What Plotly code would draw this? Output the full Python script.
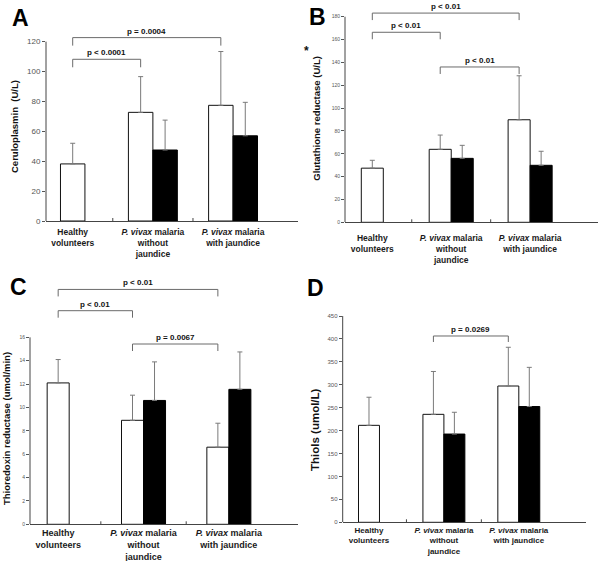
import plotly.graph_objects as go

W, H = 600, 561

categories = [
    "Healthy<br>volunteers",
    "<i>P. vivax</i> malaria<br>without<br>jaundice",
    "<i>P. vivax</i> malaria<br>with jaundice",
]

# Panel A - Ceruloplasmin (U/L)
A_white = [38.2, 72.7, 77.4]
A_white_sd = [13.8, 23.9, 36.0]
A_black = [47.5, 57.0]
A_black_sd = [20.0, 22.4]
A_ticks = [0, 20, 40, 60, 80, 100, 120]
A_brackets = [(0, 1, 108.2, "p < 0.0001"), (0, 2, 122.7, "p = 0.0004")]

# Panel B - Glutathione reductase (U/L)
B_white = [47.4, 63.9, 89.8]
B_white_sd = [6.9, 12.5, 38.5]
B_black = [56.0, 49.9]
B_black_sd = [11.4, 12.3]
B_ticks = [0, 20, 40, 60, 80, 100, 120, 140, 160, 180]
B_brackets = [(0, 2, 183.2, "p < 0.01"), (0, 1, 166.4, "p < 0.01"), (1, 2, 136.0, "p < 0.01")]

# Panel C - Thioredoxin reductase (umol/min)
C_white = [12.1, 8.9, 6.6]
C_white_sd = [2.0, 2.15, 2.05]
C_black = [10.6, 11.55]
C_black_sd = [3.3, 3.2]
C_ticks = [0, 2, 4, 6, 8, 10, 12, 14, 16]
C_brackets = [(0, 2, 20.1, "p < 0.01"), (0, 1, 18.28, "p < 0.01"), (1, 2, 15.43, "p = 0.0067")]

# Panel D - Thiols (umol/L)
D_white = [211.5, 235.5, 297.3]
D_white_sd = [61.3, 93.5, 84.5]
D_black = [192.5, 252.5]
D_black_sd = [47.5, 85.5]
D_ticks = [0, 50, 100, 150, 200, 250, 300, 350, 400, 450]
D_brackets = [(1, 2, 406.4, "p = 0.0269")]

FONT = "Arial, Liberation Sans, sans-serif"

panels = [
    dict(letter="A", white=A_white, wsd=A_white_sd, black=A_black, bsd=A_black_sd, ticks=A_ticks,
         brackets=A_brackets, title="Ceruloplasmin  (U/L)", title_size=9.5, title_xy=(15, 127),
         xpx=(46, 298), xr=(-0.333, 2.81), ypx=(30, 221), ytop=127.8, w=0.305,
         tick_size=8, drop=8, letter_xy=(20, 18), cat_size=8.5, cat_standoff=3),
    dict(letter="B", white=B_white, wsd=B_white_sd, black=B_black, bsd=B_black_sd, ticks=B_ticks,
         brackets=B_brackets, title="Glutathione reductase (U/L)", title_size=9.5, title_xy=(315.7, 118),
         xpx=(345, 598), xr=(-0.346, 2.86), ypx=(6, 222.3), ytop=189.4, w=0.279,
         tick_size=5, drop=7, letter_xy=(317, 17), cat_size=8.5, cat_standoff=7),
    dict(letter="C", white=C_white, wsd=C_white_sd, black=C_black, bsd=C_black_sd, ticks=C_ticks,
         brackets=C_brackets, title="Thioredoxin reductase (umol/min)", title_size=9.5, title_xy=(7, 429),
         xpx=(30, 298), xr=(-0.33, 2.81), ypx=(283, 524.3), ytop=20.65, w=0.258,
         tick_size=5, drop=7, letter_xy=(18, 287), cat_size=9, cat_standoff=0),
    dict(letter="D", white=D_white, wsd=D_white_sd, black=D_black, bsd=D_black_sd, ticks=D_ticks,
         brackets=D_brackets, title="Thiols (umol/L)", title_size=11.5, title_xy=(315, 430),
         xpx=(342.7, 586), xr=(-0.351, 2.897), ypx=(316, 522.3), ytop=450, w=0.28,
         tick_size=6, drop=6, letter_xy=(316, 288), cat_size=8, cat_standoff=0),
]

fig = go.Figure()
layout = dict(width=W, height=H, margin=dict(l=0, r=0, t=0, b=0), showlegend=False,
              plot_bgcolor="white", paper_bgcolor="white", barmode="overlay",
              font=dict(family=FONT))
shapes = []
annotations = []

for i, p in enumerate(panels):
    n = "" if i == 0 else str(i + 1)
    xa, ya = "x" + n, "y" + n
    w = p["w"]
    fig.add_trace(go.Bar(
        x=categories, y=p["white"], width=w, offset=[-w / 2, -w, -w],
        marker=dict(color="white", line=dict(color="#111", width=1)),
        error_y=dict(type="data", symmetric=False, array=p["wsd"], arrayminus=[0] * 3,
                     color="#7a7a7a", thickness=1, width=2.5),
        xaxis=xa, yaxis=ya, name="white"))
    fig.add_trace(go.Bar(
        x=categories[1:], y=p["black"], width=w, offset=0,
        marker=dict(color="black", line=dict(color="black", width=1)),
        error_y=dict(type="data", symmetric=False, array=p["bsd"], arrayminus=[0] * 2,
                     color="#7a7a7a", thickness=1, width=2.5),
        xaxis=xa, yaxis=ya, name="black"))

    xd = [p["xpx"][0] / W, p["xpx"][1] / W]
    yd = [1 - p["ypx"][1] / H, 1 - p["ypx"][0] / H]
    layout["xaxis" + n] = dict(
        domain=xd, anchor=ya, type="category", categoryorder="array", categoryarray=categories,
        range=list(p["xr"]), showline=True, linecolor="#444", linewidth=1, ticks="",
        showgrid=False, zeroline=False, automargin=False, ticklabelstandoff=p["cat_standoff"],
        tickfont=dict(family=FONT, size=p["cat_size"], color="#1a1a1a", weight="bold"))
    layout["yaxis" + n] = dict(
        domain=yd, anchor=xa, range=[0, p["ytop"]], showline=False, tickmode="array",
        tickvals=p["ticks"], ticks="outside", ticklen=3, tickcolor="#555", showgrid=False,
        zeroline=False, automargin=False,
        tickfont=dict(family=FONT, size=p["tick_size"], color="#555"))

    # y axis line up to the last tick
    shapes.append(dict(type="line", xref="paper", yref=ya, x0=xd[0], x1=xd[0],
                       y0=0, y1=p["ticks"][-1], line=dict(color="#444", width=1)))
    # small category boundary marks
    for b in (0.5, 1.5):
        shapes.append(dict(type="line", xref=xa, yref="paper", x0=b, x1=b,
                           y0=yd[0], y1=yd[0] + 3 / H, line=dict(color="#444", width=1)))

    ppu = (p["ypx"][1] - p["ypx"][0]) / p["ytop"]
    drop = p["drop"] / ppu

    def center(c):
        return 0 if c == 0 else c - w / 2

    for c0, c1, lvl, txt in p["brackets"]:
        x0, x1 = center(c0), center(c1)
        shapes.append(dict(type="path", xref=xa, yref=ya,
                           path=f"M {x0},{lvl - drop} L {x0},{lvl} L {x1},{lvl} L {x1},{lvl - drop}",
                           line=dict(color="#6a6a6a", width=1)))
        annotations.append(dict(xref=xa, yref=ya, x=(x0 + x1) / 2, y=lvl, text=txt,
                                showarrow=False, yanchor="bottom", yshift=0,
                                font=dict(family=FONT, size=8, color="#111", weight="bold")))

    annotations.append(dict(xref="paper", yref="paper", x=p["title_xy"][0] / W,
                            y=1 - p["title_xy"][1] / H, text=p["title"], textangle=-90,
                            showarrow=False, xanchor="center", yanchor="middle",
                            font=dict(family=FONT, size=p["title_size"], color="#111", weight="bold")))
    annotations.append(dict(xref="paper", yref="paper", x=p["letter_xy"][0] / W,
                            y=1 - p["letter_xy"][1] / H, text=p["letter"], showarrow=False,
                            xanchor="center", yanchor="middle",
                            font=dict(family=FONT, size=23, color="black", weight="bold")))

annotations.append(dict(xref="paper", yref="paper", x=306.7 / W, y=1 - 51 / H, text="*",
                        showarrow=False, xanchor="center", yanchor="middle",
                        font=dict(family=FONT, size=12, color="#111", weight="bold")))

layout["shapes"] = shapes
layout["annotations"] = annotations
fig.update_layout(**layout)
fig.write_html("out.html", config={"displayModeBar": False},
               post_script="document.body.style.margin='0px';")
